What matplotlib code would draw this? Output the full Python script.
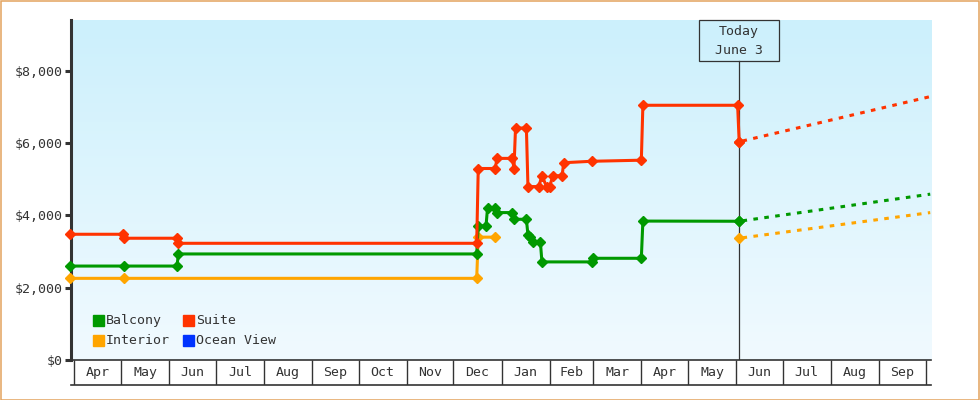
import matplotlib
matplotlib.use("Agg")
import matplotlib.pyplot as plt
import matplotlib.dates as mdates
import numpy as np
from matplotlib.patches import Rectangle

# price history (date, price)
suite_dates = ["2022-03-29", "2022-05-02", "2022-05-03", "2022-06-06", "2022-06-07",
               "2022-12-16", "2022-12-17", "2022-12-28", "2022-12-29", "2023-01-08",
               "2023-01-09", "2023-01-10", "2023-01-17", "2023-01-18", "2023-01-25",
               "2023-01-27", "2023-01-30", "2023-02-01", "2023-02-03", "2023-02-09",
               "2023-02-10", "2023-02-28", "2023-04-01", "2023-04-02", "2023-06-02",
               "2023-06-03"]
suite_prices = [3480, 3480, 3370, 3370, 3230,
                3230, 5300, 5300, 5580, 5580,
                5300, 6420, 6420, 4800, 4800,
                5100, 4800, 4800, 5100, 5100,
                5460, 5500, 5530, 7050, 7050,
                6040]

balcony_dates = ["2022-03-29", "2022-05-03", "2022-06-06", "2022-06-07", "2022-12-16",
                 "2022-12-17", "2022-12-22", "2022-12-23", "2022-12-28", "2022-12-29",
                 "2023-01-08", "2023-01-09", "2023-01-17", "2023-01-18", "2023-01-19",
                 "2023-01-21", "2023-01-26", "2023-01-27", "2023-02-28", "2023-03-01",
                 "2023-04-01", "2023-04-02", "2023-06-03"]
balcony_prices = [2600, 2600, 2600, 2935, 2935,
                  3710, 3710, 4220, 4220, 4080,
                  4080, 3895, 3895, 3460, 3410,
                  3270, 3270, 2715, 2715, 2815,
                  2815, 3845, 3840]

interior_dates = ["2022-03-29", "2022-05-03", "2022-12-16", "2022-12-17", "2022-12-28"]
interior_prices = [2260, 2260, 2260, 3400, 3400]

# forecast: today -> end of chart
forecast_dates = ["2023-06-03", "2023-10-04"]
suite_forecast = [6040, 7290]
balcony_forecast = [3840, 4590]
interior_forecast = [3370, 4080]

today = "2023-06-03"
today_label = "Today\nJune 3"

month_starts = ["2022-04-01", "2022-05-01", "2022-06-01", "2022-07-01", "2022-08-01",
                "2022-09-01", "2022-10-01", "2022-11-01", "2022-12-01", "2023-01-01",
                "2023-02-01", "2023-03-01", "2023-04-01", "2023-05-01", "2023-06-01",
                "2023-07-01", "2023-08-01", "2023-09-01", "2023-10-01"]
month_labels = ["Apr", "May", "Jun", "Jul", "Aug", "Sep", "Oct", "Nov", "Dec", "Jan",
                "Feb", "Mar", "Apr", "May", "Jun", "Jul", "Aug", "Sep"]

y_ticks = [0, 2000, 4000, 6000, 8000]
y_labels = ["$0", "$2,000", "$4,000", "$6,000", "$8,000"]

legend_names = ["Balcony", "Suite", "Interior", "Ocean View"]
GREEN, RED, ORANGE, BLUE = "#009900", "#ff3300", "#ffa500", "#0033ff"
legend_colors = [GREEN, RED, ORANGE, BLUE]

INK = "#333333"
FONT = "DejaVu Sans Mono"
FS = 9.5


def d(lst):
    return mdates.date2num(np.array(lst, dtype="datetime64[D]"))


W, H = 980, 400
fig = plt.figure(figsize=(W / 100, H / 100), dpi=100)
plt.rcParams["font.family"] = FONT

ax = fig.add_axes([71 / W, 40 / H, 860 / W, 340 / H])
x_lo = d(["2022-04-01"])[0] - 2.2
x_hi = d(["2022-04-01"])[0] + 551.5

# gradient background
top = np.array([204, 240, 252]) / 255
bot = np.array([241, 250, 255]) / 255
t = np.linspace(0, 1, 200)[:, None]
grad = (top * (1 - t) + bot * t)[:, None, :]
ax.imshow(grad, extent=[0, 1, 0, 1], transform=ax.transAxes, aspect="auto", zorder=0)

lw = 2.2
ms = 5.0
for dates, prices, col in [(interior_dates, interior_prices, ORANGE),
                           (balcony_dates, balcony_prices, GREEN),
                           (suite_dates, suite_prices, RED)]:
    ax.plot(d(dates), prices, color=col, lw=lw, marker="D", ms=ms, mec=col,
            solid_joinstyle="miter", clip_on=False, zorder=3)

for vals, col in [(interior_forecast, ORANGE), (balcony_forecast, GREEN),
                  (suite_forecast, RED)]:
    ax.plot(d(forecast_dates), vals, color=col, lw=lw, linestyle=(2.5, (1.5, 2.1)),
            dash_capstyle="butt", zorder=3)
    ax.plot(d(forecast_dates[:1]), vals[:1], color=col, marker="D", ms=ms, zorder=4)

ax.set_xlim(x_lo, x_hi)
ax.set_ylim(0, 9410)

# today marker
td = d([today])[0]
box_bottom = (360 - 60.7) / 340
ax.plot([td, td], [0, box_bottom], color=INK, lw=0.9, transform=ax.get_xaxis_transform(),
        zorder=2)
half = 40.2 / 1.5533
ax.add_patch(Rectangle((td - half, box_bottom), 2 * half, 1 - box_bottom,
                       transform=ax.get_xaxis_transform(), fill=False, ec=INK, lw=0.9,
                       clip_on=False, zorder=5))
for i, line in enumerate(today_label.split("\n")):
    ax.text(td, (360 - 31.5 - 18.5 * i) / 340, line, transform=ax.get_xaxis_transform(),
            ha="center", va="center", fontsize=FS, color=INK, zorder=6)

# axes styling
for s in ["top", "right"]:
    ax.spines[s].set_visible(False)
ax.spines["left"].set_linewidth(2.2)
ax.spines["left"].set_color(INK)
ax.spines["bottom"].set_linewidth(1.2)
ax.spines["bottom"].set_color(INK)
ax.set_yticks(y_ticks)
ax.set_yticklabels(y_labels)
ax.tick_params(axis="y", direction="out", length=4, width=2.2, color=INK,
               labelsize=FS, labelcolor=INK, pad=2)
ax.tick_params(axis="x", bottom=False, labelbottom=False)

# month bar below the axis
ax2 = fig.add_axes([71 / W, 15 / H, 860 / W, 25 / H])
ax2.set_xlim(x_lo, x_hi)
ax2.set_ylim(0, 1)
ms_num = d(month_starts)
ax2.vlines(ms_num, 0, 1, color=INK, lw=1.0)
for a, b, lab in zip(ms_num[:-1], ms_num[1:], month_labels):
    ax2.text((a + b) / 2, 0.5, lab, ha="center", va="center", fontsize=FS, color=INK)
for s in ["top", "right", "left"]:
    ax2.spines[s].set_visible(False)
ax2.spines["bottom"].set_linewidth(1.2)
ax2.spines["bottom"].set_color(INK)
ax2.set_xticks([])
ax2.set_yticks([])
ax2.patch.set_alpha(0)

# legend, drawn by hand in pixel positions
pos = [(93, 315), (183, 315), (93, 335), (183, 335)]
for (px, py), name, col in zip(pos, legend_names, legend_colors):
    fig.patches.append(Rectangle((px / W, 1 - (py + 11) / H), 11 / W, 11 / H,
                                 transform=fig.transFigure, color=col, zorder=10))
    fig.text((px + 13) / W, 1 - (py + 5.5) / H, name, ha="left", va="center",
             fontsize=FS, color=INK, zorder=10)

# outer border
fig.patches.append(Rectangle((0.5 / W, 0.5 / H), (W - 1.5) / W, (H - 1.5) / H,
                             transform=fig.transFigure, fill=False, ec="#e3a35e", lw=1.1))

fig.savefig("out.png", dpi=100)
